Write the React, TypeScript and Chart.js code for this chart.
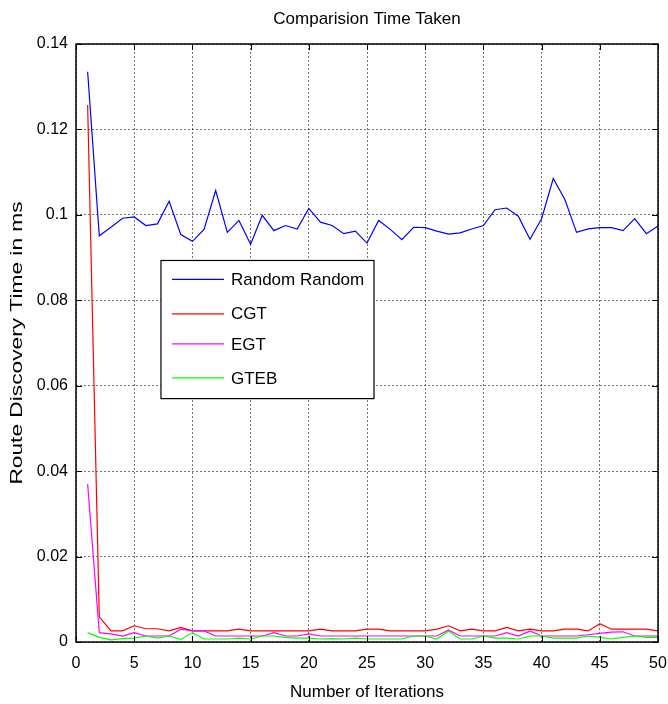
import React, { useEffect, useRef } from "react";
import { Chart, registerables } from "chart.js";

Chart.register(...registerables);

const iterations: number[] = Array.from({ length: 50 }, (_, i) => i + 1);

const randomRandom: number[] = [
  0.1335, 0.0951, 0.0971, 0.0992, 0.0995, 0.0975, 0.0979, 0.1032, 0.0954, 0.0938,
  0.0966, 0.1057, 0.0959, 0.0987, 0.0931, 0.0999, 0.0963, 0.0975, 0.0967, 0.1015,
  0.0983, 0.0975, 0.0956, 0.0962, 0.0934, 0.0987, 0.0966, 0.0942, 0.0971, 0.0970,
  0.0962, 0.0955, 0.0958, 0.0967, 0.0975, 0.1012, 0.1016, 0.0997, 0.0943, 0.0991,
  0.1085, 0.1036, 0.0959, 0.0967, 0.0970, 0.0970, 0.0963, 0.0991, 0.0956, 0.0974,
];

const cgt: number[] = [
  0.1257, 0.0059, 0.0026, 0.0026, 0.0038, 0.0031, 0.0031, 0.0026, 0.0034, 0.0026,
  0.0026, 0.0026, 0.0026, 0.0030, 0.0026, 0.0026, 0.0026, 0.0026, 0.0026, 0.0026,
  0.0030, 0.0026, 0.0026, 0.0026, 0.0030, 0.0030, 0.0026, 0.0026, 0.0026, 0.0026,
  0.0030, 0.0038, 0.0026, 0.0030, 0.0026, 0.0026, 0.0034, 0.0026, 0.0030, 0.0026,
  0.0026, 0.0030, 0.0030, 0.0026, 0.0043, 0.0030, 0.0030, 0.0030, 0.0030, 0.0026,
];

const egt: number[] = [
  0.0370, 0.0022, 0.0019, 0.0014, 0.0022, 0.0014, 0.0014, 0.0014, 0.0030, 0.0026,
  0.0026, 0.0014, 0.0014, 0.0014, 0.0014, 0.0014, 0.0022, 0.0014, 0.0014, 0.0019,
  0.0014, 0.0014, 0.0014, 0.0014, 0.0014, 0.0014, 0.0014, 0.0014, 0.0014, 0.0014,
  0.0014, 0.0028, 0.0014, 0.0014, 0.0014, 0.0014, 0.0022, 0.0014, 0.0026, 0.0014,
  0.0014, 0.0014, 0.0014, 0.0017, 0.0020, 0.0023, 0.0024, 0.0014, 0.0014, 0.0014,
];

const gteb: number[] = [
  0.0022, 0.0011, 0.0005, 0.0008, 0.0009, 0.0014, 0.0009, 0.0014, 0.0006, 0.0022,
  0.0007, 0.0007, 0.0007, 0.0009, 0.0007, 0.0014, 0.0014, 0.0011, 0.0009, 0.0009,
  0.0007, 0.0008, 0.0007, 0.0009, 0.0007, 0.0007, 0.0007, 0.0007, 0.0014, 0.0014,
  0.0007, 0.0026, 0.0007, 0.0007, 0.0014, 0.0009, 0.0009, 0.0007, 0.0014, 0.0014,
  0.0009, 0.0009, 0.0009, 0.0014, 0.0011, 0.0007, 0.0011, 0.0014, 0.0011, 0.0011,
];

const seriesNames: string[] = ["Random Random", "CGT", "EGT", "GTEB"];
const seriesColors: string[] = ["#0000ff", "#ff0000", "#ff00ff", "#00ff00"];

const xTickValues: number[] = [0, 5, 10, 15, 20, 25, 30, 35, 40, 45, 50];
const yTickValues: number[] = [0, 0.02, 0.04, 0.06, 0.08, 0.1, 0.12, 0.14];

const titleText = "Comparision Time Taken";
const xTitleText = "Number of Iterations";
const yTitleText = "Route Discovery Time in ms";

const FONT = "'Liberation Sans', Arial, sans-serif";

const boxPlugin = {
  id: "matlabBox",
  afterDraw(chart: any) {
    const { ctx, chartArea } = chart;
    const { left, right, top, bottom } = chartArea;
    const xs = chart.scales.x;
    const ys = chart.scales.y;
    ctx.save();
    ctx.strokeStyle = "#000";
    ctx.lineWidth = 1;
    // inner ticks
    ctx.beginPath();
    const tl = 6;
    xTickValues.forEach((v) => {
      const px = Math.round(xs.getPixelForValue(v)) + 0.5;
      ctx.moveTo(px, bottom);
      ctx.lineTo(px, bottom - tl);
      ctx.moveTo(px, top);
      ctx.lineTo(px, top + tl);
    });
    yTickValues.forEach((v) => {
      const py = Math.round(ys.getPixelForValue(v)) + 0.5;
      ctx.moveTo(left, py);
      ctx.lineTo(left + tl, py);
      ctx.moveTo(right, py);
      ctx.lineTo(right - tl, py);
    });
    ctx.stroke();
    ctx.lineWidth = 1.5;
    ctx.strokeRect(left, top, right - left, bottom - top);

    // y-axis title (stretched along its length like the reference)
    ctx.save();
    ctx.translate(18, (top + bottom) / 2);
    ctx.rotate(-Math.PI / 2);
    ctx.scale(1.42, 1);
    ctx.font = `16px ${FONT}`;
    ctx.fillStyle = "#000";
    ctx.textAlign = "center";
    ctx.textBaseline = "middle";
    ctx.fillText(yTitleText, 0, 0);
    ctx.restore();

    // legend
    const w = right - left;
    const h = bottom - top;
    const lx = left + w * 0.146;
    const ly = top + h * 0.362;
    const lw = w * 0.366;
    const lh = h * 0.231;
    ctx.fillStyle = "#fff";
    ctx.fillRect(lx, ly, lw, lh);
    ctx.lineWidth = 1.2;
    ctx.strokeStyle = "#000";
    ctx.strokeRect(lx, ly, lw, lh);
    const rows = [0.137, 0.386, 0.604, 0.85];
    ctx.font = `17px ${FONT}`;
    ctx.textBaseline = "middle";
    ctx.textAlign = "left";
    seriesNames.forEach((name, i) => {
      const ry = ly + lh * rows[i];
      ctx.strokeStyle = seriesColors[i];
      ctx.lineWidth = 1.2;
      ctx.beginPath();
      ctx.moveTo(lx + 11, ry);
      ctx.lineTo(lx + 63, ry);
      ctx.stroke();
      ctx.fillStyle = "#000";
      ctx.fillText(name, lx + 70, ry + 1);
    });
    ctx.restore();
  },
};

export default function App() {
  const ref = useRef<HTMLCanvasElement | null>(null);
  useEffect(() => {
    document.body.style.margin = "0";
    const canvas = ref.current;
    if (!canvas) return;
    const allSeries = [randomRandom, cgt, egt, gteb];
    const chart = new Chart(canvas, {
      type: "line",
      data: {
        datasets: allSeries.map((s, i) => ({
          label: seriesNames[i],
          data: s.map((v, j) => ({ x: iterations[j], y: v })),
          borderColor: seriesColors[i],
          backgroundColor: seriesColors[i],
          borderWidth: 1.2,
          pointRadius: 0,
          tension: 0,
          fill: false,
          order: 4 - i,
        })),
      },
      plugins: [boxPlugin],
      options: {
        animation: false,
        responsive: false,
        layout: { padding: { left: 0, right: 10, top: 0, bottom: 0 } },
        plugins: {
          legend: { display: false },
          tooltip: { enabled: false },
          title: {
            display: true,
            text: titleText,
            fullSize: false,
            color: "#000",
            font: { family: FONT, size: 17, weight: "normal" },
            padding: { top: 9, bottom: 14.6 },
          },
        },
        scales: {
          x: {
            type: "linear",
            min: 0,
            max: 50,
            afterBuildTicks: (scale: any) => {
              scale.ticks = xTickValues.map((v) => ({ value: v }));
            },
            afterFit: (scale: any) => {
              scale.height = 62;
              scale.paddingLeft = 0;
              scale.paddingRight = 0;
            },
            ticks: {
              color: "#000",
              font: { family: FONT, size: 16 },
              padding: 12,
              maxRotation: 0,
              autoSkip: false,
            },
            grid: {
              color: "rgba(0,0,0,0.55)",
              lineWidth: 1,
              drawTicks: false,
            },
            border: { display: false, dash: [2, 2] },
            title: {
              display: true,
              text: xTitleText,
              color: "#000",
              font: { family: FONT, size: 17 },
              padding: { top: 4, bottom: 1 },
            },
          },
          y: {
            type: "linear",
            min: 0,
            max: 0.14,
            afterBuildTicks: (scale: any) => {
              scale.ticks = yTickValues.map((v) => ({ value: v }));
            },
            afterFit: (scale: any) => {
              scale.width = 76;
              scale.paddingTop = 0;
              scale.paddingBottom = 0;
            },
            ticks: {
              color: "#000",
              font: { family: FONT, size: 16 },
              padding: 8,
              autoSkip: false,
              callback: (v: any) => String(Number(Number(v).toFixed(2))),
            },
            grid: {
              color: "rgba(0,0,0,0.55)",
              lineWidth: 1,
              drawTicks: false,
            },
            border: { display: false, dash: [2, 2] },
            title: { display: false },
          },
        },
      },
    });
    return () => chart.destroy();
  }, []);
  return (
    <div style={{ width: 668, height: 704, background: "#fff" }}>
      <canvas ref={ref} width={668} height={704} style={{ display: "block" }} />
    </div>
  );
}
